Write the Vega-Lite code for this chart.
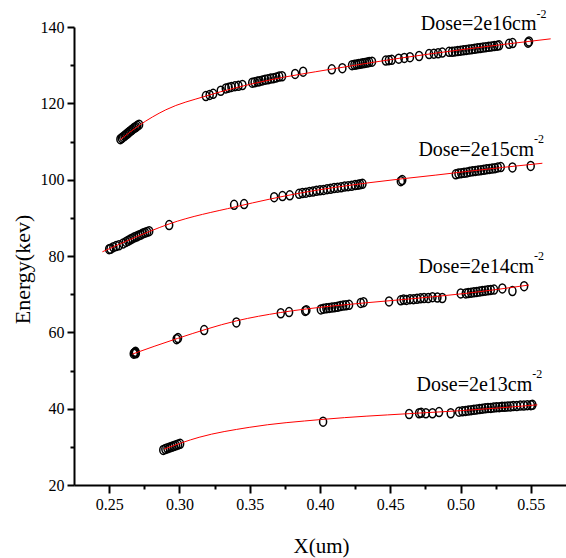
{
  "$schema": "https://vega.github.io/schema/vega-lite/v6.json",
  "width": 492,
  "height": 458,
  "autosize": {"type": "none"},
  "padding": {"left": 74, "top": 27, "right": 0, "bottom": 73},
  "background": "white",
  "config": {
    "view": {"stroke": null},
    "font": "Liberation Serif",
    "axis": {"grid": false, "domainColor": "black", "domainWidth": 2, "tickColor": "black", "tickWidth": 2, "labelColor": "black", "titleColor": "black", "titleFontWeight": "normal", "labelFont": "Liberation Serif", "titleFont": "Liberation Serif", "labelOverlap": false, "labelFlush": false}
  },
  "datasets": {
    "pts": [
      {"s":"16","x":0.2580,"y":110.6},{"s":"16","x":0.2590,"y":110.9},{"s":"16","x":0.2600,"y":111.2},{"s":"16","x":0.2610,"y":111.5},{"s":"16","x":0.2620,"y":111.8},{"s":"16","x":0.2630,"y":112.1},{"s":"16","x":0.2640,"y":112.4},{"s":"16","x":0.2650,"y":112.7},{"s":"16","x":0.2660,"y":113.0},{"s":"16","x":0.2670,"y":113.3},{"s":"16","x":0.2680,"y":113.6},{"s":"16","x":0.2690,"y":113.8},{"s":"16","x":0.2700,"y":114.1},{"s":"16","x":0.2713,"y":114.4},
      {"s":"16","x":0.3188,"y":121.9},{"s":"16","x":0.3215,"y":122.2},{"s":"16","x":0.3240,"y":122.5},{"s":"16","x":0.3294,"y":123.3},{"s":"16","x":0.3330,"y":123.9},{"s":"16","x":0.3350,"y":124.1},{"s":"16","x":0.3370,"y":124.3},{"s":"16","x":0.3395,"y":124.5},{"s":"16","x":0.3420,"y":124.6},{"s":"16","x":0.3448,"y":124.8},
      {"s":"16","x":0.3518,"y":125.4},{"s":"16","x":0.3535,"y":125.5},{"s":"16","x":0.3555,"y":125.7},{"s":"16","x":0.3570,"y":125.8},{"s":"16","x":0.3590,"y":126.0},{"s":"16","x":0.3610,"y":126.2},{"s":"16","x":0.3630,"y":126.3},{"s":"16","x":0.3650,"y":126.5},{"s":"16","x":0.3670,"y":126.6},{"s":"16","x":0.3690,"y":126.8},{"s":"16","x":0.3710,"y":127.0},{"s":"16","x":0.3730,"y":127.1},
      {"s":"16","x":0.3823,"y":127.7},{"s":"16","x":0.3880,"y":128.3},{"s":"16","x":0.4084,"y":128.9},{"s":"16","x":0.4159,"y":129.2},
      {"s":"16","x":0.4228,"y":130.0},{"s":"16","x":0.4245,"y":130.1},{"s":"16","x":0.4260,"y":130.2},{"s":"16","x":0.4275,"y":130.3},{"s":"16","x":0.4290,"y":130.4},{"s":"16","x":0.4305,"y":130.5},{"s":"16","x":0.4320,"y":130.6},{"s":"16","x":0.4335,"y":130.7},{"s":"16","x":0.4350,"y":130.8},{"s":"16","x":0.4370,"y":130.9},
      {"s":"16","x":0.4468,"y":131.2},{"s":"16","x":0.4490,"y":131.3},{"s":"16","x":0.4510,"y":131.4},{"s":"16","x":0.4560,"y":131.7},{"s":"16","x":0.4600,"y":131.9},{"s":"16","x":0.4640,"y":132.1},{"s":"16","x":0.4705,"y":132.4},
      {"s":"16","x":0.4776,"y":132.9},{"s":"16","x":0.4810,"y":133.0},{"s":"16","x":0.4840,"y":133.1},{"s":"16","x":0.4870,"y":133.3},{"s":"16","x":0.4918,"y":133.5},
      {"s":"16","x":0.4940,"y":133.5},{"s":"16","x":0.4960,"y":133.6},{"s":"16","x":0.4980,"y":133.7},{"s":"16","x":0.5000,"y":133.8},{"s":"16","x":0.5020,"y":133.9},{"s":"16","x":0.5040,"y":134.0},{"s":"16","x":0.5060,"y":134.1},{"s":"16","x":0.5080,"y":134.2},{"s":"16","x":0.5100,"y":134.3},{"s":"16","x":0.5120,"y":134.4},{"s":"16","x":0.5140,"y":134.5},{"s":"16","x":0.5160,"y":134.6},{"s":"16","x":0.5180,"y":134.7},{"s":"16","x":0.5200,"y":134.8},{"s":"16","x":0.5220,"y":134.9},{"s":"16","x":0.5240,"y":135.0},{"s":"16","x":0.5260,"y":135.1},{"s":"16","x":0.5274,"y":135.2},
      {"s":"16","x":0.5345,"y":135.6},{"s":"16","x":0.5370,"y":135.8},{"s":"16","x":0.5480,"y":135.9},{"s":"16","x":0.5487,"y":136.2},

      {"s":"15","x":0.2500,"y":81.8},{"s":"15","x":0.2510,"y":81.9},{"s":"15","x":0.2530,"y":82.3},{"s":"15","x":0.2550,"y":82.6},{"s":"15","x":0.2570,"y":82.8},{"s":"15","x":0.2600,"y":83.3},{"s":"15","x":0.2620,"y":83.7},{"s":"15","x":0.2635,"y":84.0},{"s":"15","x":0.2650,"y":84.3},{"s":"15","x":0.2665,"y":84.6},{"s":"15","x":0.2680,"y":84.9},{"s":"15","x":0.2695,"y":85.1},{"s":"15","x":0.2710,"y":85.4},{"s":"15","x":0.2725,"y":85.6},{"s":"15","x":0.2740,"y":85.9},{"s":"15","x":0.2755,"y":86.1},{"s":"15","x":0.2770,"y":86.3},{"s":"15","x":0.2785,"y":86.5},
      {"s":"15","x":0.2927,"y":88.1},{"s":"15","x":0.3389,"y":93.4},{"s":"15","x":0.3460,"y":93.6},{"s":"15","x":0.3674,"y":95.4},{"s":"15","x":0.3733,"y":95.7},{"s":"15","x":0.3785,"y":95.9},
      {"s":"15","x":0.3851,"y":96.3},{"s":"15","x":0.3875,"y":96.5},{"s":"15","x":0.3900,"y":96.6},{"s":"15","x":0.3925,"y":96.8},{"s":"15","x":0.3950,"y":96.9},{"s":"15","x":0.3975,"y":97.1},{"s":"15","x":0.4000,"y":97.2},{"s":"15","x":0.4025,"y":97.3},{"s":"15","x":0.4050,"y":97.5},{"s":"15","x":0.4075,"y":97.6},{"s":"15","x":0.4100,"y":97.8},{"s":"15","x":0.4125,"y":97.9},{"s":"15","x":0.4150,"y":98.0},{"s":"15","x":0.4175,"y":98.2},{"s":"15","x":0.4200,"y":98.3},{"s":"15","x":0.4225,"y":98.4},{"s":"15","x":0.4250,"y":98.6},{"s":"15","x":0.4270,"y":98.7},{"s":"15","x":0.4285,"y":98.8},{"s":"15","x":0.4302,"y":98.9},
      {"s":"15","x":0.4575,"y":99.6},{"s":"15","x":0.4585,"y":99.9},
      {"s":"15","x":0.4966,"y":101.4},{"s":"15","x":0.4985,"y":101.6},{"s":"15","x":0.5005,"y":101.7},{"s":"15","x":0.5025,"y":101.8},{"s":"15","x":0.5045,"y":101.9},{"s":"15","x":0.5065,"y":102.1},{"s":"15","x":0.5085,"y":102.2},{"s":"15","x":0.5105,"y":102.3},{"s":"15","x":0.5125,"y":102.4},{"s":"15","x":0.5145,"y":102.5},{"s":"15","x":0.5165,"y":102.6},{"s":"15","x":0.5185,"y":102.7},{"s":"15","x":0.5205,"y":102.8},{"s":"15","x":0.5225,"y":102.9},{"s":"15","x":0.5245,"y":103.0},{"s":"15","x":0.5265,"y":103.2},{"s":"15","x":0.5286,"y":103.3},
      {"s":"15","x":0.5369,"y":103.2},{"s":"15","x":0.5499,"y":103.6},

      {"s":"14","x":0.2675,"y":54.4},{"s":"14","x":0.2680,"y":54.6},{"s":"14","x":0.2685,"y":54.7},{"s":"14","x":0.2690,"y":54.5},{"s":"14","x":0.2688,"y":54.9},
      {"s":"14","x":0.2980,"y":58.2},{"s":"14","x":0.2990,"y":58.5},{"s":"14","x":0.3176,"y":60.6},{"s":"14","x":0.3405,"y":62.6},{"s":"14","x":0.3721,"y":65.0},{"s":"14","x":0.3780,"y":65.3},{"s":"14","x":0.3895,"y":65.6},{"s":"14","x":0.3903,"y":65.8},
      {"s":"14","x":0.4006,"y":66.0},{"s":"14","x":0.4025,"y":66.2},{"s":"14","x":0.4045,"y":66.3},{"s":"14","x":0.4065,"y":66.4},{"s":"14","x":0.4085,"y":66.5},{"s":"14","x":0.4105,"y":66.6},{"s":"14","x":0.4125,"y":66.7},{"s":"14","x":0.4145,"y":66.9},{"s":"14","x":0.4165,"y":67.0},{"s":"14","x":0.4185,"y":67.1},{"s":"14","x":0.4207,"y":67.2},
      {"s":"14","x":0.4290,"y":67.7},{"s":"14","x":0.4310,"y":67.9},{"s":"14","x":0.4491,"y":68.1},
      {"s":"14","x":0.4575,"y":68.4},{"s":"14","x":0.4595,"y":68.6},{"s":"14","x":0.4615,"y":68.5},{"s":"14","x":0.4640,"y":68.7},{"s":"14","x":0.4665,"y":68.7},{"s":"14","x":0.4690,"y":68.8},{"s":"14","x":0.4715,"y":68.9},{"s":"14","x":0.4740,"y":69.0},{"s":"14","x":0.4770,"y":69.0},{"s":"14","x":0.4800,"y":69.2},{"s":"14","x":0.4835,"y":69.1},{"s":"14","x":0.4870,"y":69.0},
      {"s":"14","x":0.5001,"y":70.2},{"s":"14","x":0.5037,"y":70.2},{"s":"14","x":0.5055,"y":70.3},{"s":"14","x":0.5075,"y":70.4},{"s":"14","x":0.5095,"y":70.5},{"s":"14","x":0.5115,"y":70.6},{"s":"14","x":0.5135,"y":70.7},{"s":"14","x":0.5155,"y":70.8},{"s":"14","x":0.5175,"y":70.9},{"s":"14","x":0.5195,"y":71.0},{"s":"14","x":0.5215,"y":71.1},{"s":"14","x":0.5238,"y":71.2},
      {"s":"14","x":0.5297,"y":71.5},{"s":"14","x":0.5369,"y":70.8},{"s":"14","x":0.5452,"y":72.1},

      {"s":"13","x":0.2885,"y":29.2},{"s":"13","x":0.2900,"y":29.4},{"s":"13","x":0.2915,"y":29.6},{"s":"13","x":0.2930,"y":29.8},{"s":"13","x":0.2945,"y":30.0},{"s":"13","x":0.2960,"y":30.2},{"s":"13","x":0.2975,"y":30.4},{"s":"13","x":0.2990,"y":30.6},{"s":"13","x":0.3005,"y":30.8},
      {"s":"13","x":0.4022,"y":36.6},{"s":"13","x":0.4634,"y":38.6},{"s":"13","x":0.4705,"y":38.8},{"s":"13","x":0.4720,"y":38.9},{"s":"13","x":0.4753,"y":38.8},{"s":"13","x":0.4800,"y":38.8},{"s":"13","x":0.4847,"y":39.1},{"s":"13","x":0.4930,"y":38.8},{"s":"13","x":0.4989,"y":39.2},
      {"s":"13","x":0.5013,"y":39.3},{"s":"13","x":0.5035,"y":39.4},{"s":"13","x":0.5055,"y":39.5},{"s":"13","x":0.5075,"y":39.6},{"s":"13","x":0.5095,"y":39.7},{"s":"13","x":0.5115,"y":39.8},{"s":"13","x":0.5135,"y":39.9},{"s":"13","x":0.5155,"y":40.0},{"s":"13","x":0.5175,"y":40.1},{"s":"13","x":0.5195,"y":40.2},{"s":"13","x":0.5215,"y":40.2},{"s":"13","x":0.5235,"y":40.3},{"s":"13","x":0.5255,"y":40.4},{"s":"13","x":0.5275,"y":40.4},{"s":"13","x":0.5295,"y":40.5},{"s":"13","x":0.5315,"y":40.5},{"s":"13","x":0.5335,"y":40.6},{"s":"13","x":0.5355,"y":40.6},{"s":"13","x":0.5375,"y":40.7},{"s":"13","x":0.5400,"y":40.7},{"s":"13","x":0.5425,"y":40.8},{"s":"13","x":0.5450,"y":40.8},{"s":"13","x":0.5475,"y":40.9},{"s":"13","x":0.5500,"y":40.9},{"s":"13","x":0.5511,"y":41.0}
    ],
    "fit": [
      {"s":"16","x":0.2580,"y":110.5},{"s":"16","x":0.2713,"y":114.2},{"s":"16","x":0.2903,"y":118.3},{"s":"16","x":0.3188,"y":121.9},{"s":"16","x":0.3614,"y":125.9},{"s":"16","x":0.4088,"y":129.0},{"s":"16","x":0.4563,"y":131.8},{"s":"16","x":0.5037,"y":134.2},{"s":"16","x":0.5641,"y":136.9},
      {"s":"15","x":0.2452,"y":81.1},{"s":"15","x":0.2785,"y":86.4},{"s":"15","x":0.2927,"y":88.4},{"s":"15","x":0.3401,"y":92.9},{"s":"15","x":0.3875,"y":96.6},{"s":"15","x":0.4349,"y":99.2},{"s":"15","x":0.4824,"y":101.2},{"s":"15","x":0.5297,"y":103.2},{"s":"15","x":0.5582,"y":104.3},
      {"s":"14","x":0.2665,"y":54.3},{"s":"14","x":0.2986,"y":58.4},{"s":"14","x":0.3405,"y":63.0},{"s":"14","x":0.3721,"y":65.2},{"s":"14","x":0.4088,"y":66.9},{"s":"14","x":0.4563,"y":68.5},{"s":"14","x":0.5037,"y":70.2},{"s":"14","x":0.5487,"y":72.4},
      {"s":"13","x":0.2891,"y":29.4},{"s":"13","x":0.3140,"y":32.5},{"s":"13","x":0.3496,"y":35.1},{"s":"13","x":0.4022,"y":37.2},{"s":"13","x":0.4634,"y":38.7},{"s":"13","x":0.5013,"y":39.5},{"s":"13","x":0.5546,"y":41.0}
    ],
    "labels": [
      {"x":0.5540,"y":139.2,"t":"Dose=2e16cm"},
      {"x":0.5523,"y":106.2,"t":"Dose=2e15cm"},
      {"x":0.5523,"y":75.6,"t":"Dose=2e14cm"},
      {"x":0.5510,"y":44.7,"t":"Dose=2e13cm"}
    ],
    "sups": [
      {"x":0.5540,"y":142.4,"t":"-2"},
      {"x":0.5523,"y":109.6,"t":"-2"},
      {"x":0.5523,"y":79.0,"t":"-2"},
      {"x":0.5510,"y":48.0,"t":"-2"}
    ]
  },
  "encoding": {
    "x": {
      "field": "x", "type": "quantitative",
      "scale": {"domain": [0.225, 0.575], "nice": false, "zero": false},
      "axis": {
        "title": "X(um)",
        "values": [0.25, 0.275, 0.3, 0.325, 0.35, 0.375, 0.4, 0.425, 0.45, 0.475, 0.5, 0.525, 0.55],
        "labelExpr": "abs(datum.value*20-round(datum.value*20))<0.001 ? format(datum.value,'.2f') : ''",
        "tickSize": {"condition": {"test": "abs(datum.value*20-round(datum.value*20))<0.001", "value": 8}, "value": 4},
        "labelFont": "Liberation Serif",
        "labelFontSize": 16,
        "labelPadding": 3,
        "titleFont": "Liberation Serif",
        "titleFontSize": 21,
        "titleX": 247,
        "titleY": 50,
        "titleBaseline": "top"
      }
    },
    "y": {
      "field": "y", "type": "quantitative",
      "scale": {"domain": [20, 140], "nice": false, "zero": false},
      "axis": {
        "title": "Energy(kev)",
        "values": [20, 30, 40, 50, 60, 70, 80, 90, 100, 110, 120, 130, 140],
        "labelExpr": "datum.value % 20 == 0 ? datum.value : ''",
        "tickSize": {"condition": {"test": "datum.value % 20 == 0", "value": 7}, "value": 4},
        "labelFont": "Liberation Serif",
        "labelFontSize": 16,
        "labelPadding": 3,
        "titleFont": "Liberation Serif",
        "titleFontSize": 22,
        "titleX": -40,
        "titleY": 242
      }
    }
  },
  "layer": [
    {
      "data": {"name": "pts"},
      "mark": {"type": "point", "shape": "M-0.78,0A0.78,1,0,1,1,0.78,0A0.78,1,0,1,1,-0.78,0Z", "size": 81, "filled": false, "stroke": "black", "strokeWidth": 1.5, "opacity": 1},
      "encoding": {"detail": {"field": "s"}}
    },
    {
      "data": {"name": "fit"},
      "mark": {"type": "line", "color": "#ff0000", "strokeWidth": 1, "interpolate": "monotone"},
      "encoding": {"detail": {"field": "s"}}
    },
    {
      "data": {"name": "labels"},
      "mark": {"type": "text", "align": "right", "baseline": "alphabetic", "fontSize": 20, "font": "Liberation Serif", "color": "black"},
      "encoding": {"text": {"field": "t"}}
    },
    {
      "data": {"name": "sups"},
      "mark": {"type": "text", "align": "left", "baseline": "alphabetic", "fontSize": 12, "font": "Liberation Serif", "color": "black"},
      "encoding": {"text": {"field": "t"}}
    }
  ]
}
